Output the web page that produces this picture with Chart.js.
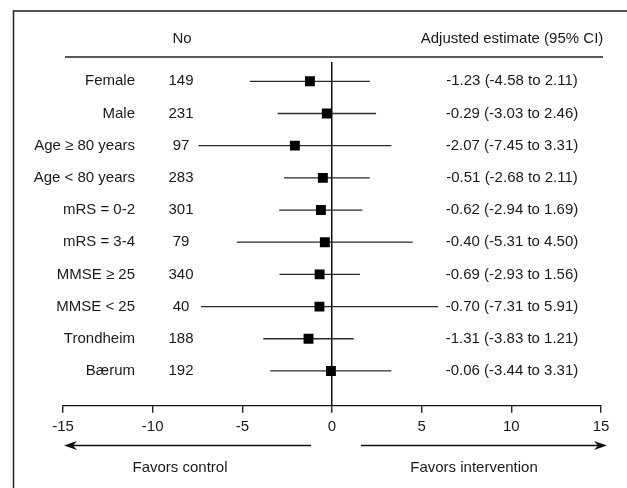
<!DOCTYPE html>
<html>
<head>
<meta charset="utf-8">
<script src="https://cdn.jsdelivr.net/npm/chart.js@4"></script>
<style>
  html, body { margin: 0; padding: 0; background: #fff; }
  canvas { display: block; }
</style>
</head>
<body>
<canvas id="forest" width="627" height="488"></canvas>
<script>
// Subgroup data
var categories = ['Female', 'Male', 'Age \u2265 80 years', 'Age < 80 years', 'mRS = 0-2', 'mRS = 3-4', 'MMSE \u2265 25', 'MMSE < 25', 'Trondheim', 'B\u00e6rum'];
var counts = [149, 231, 97, 283, 301, 79, 340, 40, 188, 192];
var estimates = [-1.23, -0.29, -2.07, -0.51, -0.62, -0.40, -0.69, -0.70, -1.31, -0.06];
var lower = [-4.58, -3.03, -7.45, -2.68, -2.94, -5.31, -2.93, -7.31, -3.83, -3.44];
var upper = [2.11, 2.46, 3.31, 2.11, 1.69, 4.50, 1.56, 5.91, 1.21, 3.31];
var xTicks = [-15, -10, -5, 0, 5, 10, 15];

var FONT = '15px "Liberation Sans", Arial, sans-serif';
var INK = '#1a1a1a';

// one line dataset per confidence interval
var ciSets = categories.map(function (c, i) {
    return {
        label: c + ' CI',
        data: [{ x: lower[i], y: i }, { x: upper[i], y: i }],
        showLine: true,
        borderColor: '#2a2a2a',
        borderWidth: 1.3,
        pointRadius: 0,
        order: 1
    };
});

var pointSet = {
    label: 'Adjusted estimate',
    data: estimates.map(function (v, i) { return { x: v, y: i }; }),
    pointStyle: 'rect',
    pointRadius: 7,
    backgroundColor: '#000',
    borderWidth: 0,
    order: 0
};

function fmt(v) { return v.toFixed(2); }

// text columns, header, frame and direction arrows
var forestDecor = {
    id: 'forestDecor',
    afterDraw: function (chart) {
        var ctx = chart.ctx;
        var x = chart.scales.x, y = chart.scales.y;
        ctx.save();

        ctx.strokeStyle = '#222';
        ctx.lineWidth = 1.5;
        ctx.beginPath();
        ctx.moveTo(13.5, 488);
        ctx.lineTo(13.5, 11);
        ctx.lineTo(627, 11);
        ctx.stroke();

        ctx.font = FONT;
        ctx.fillStyle = INK;
        ctx.textBaseline = 'middle';
        ctx.textAlign = 'center';
        ctx.fillText('No', 182, 39);
        ctx.fillText('Adjusted estimate (95% CI)', 512, 39);

        ctx.lineWidth = 1.3;
        ctx.beginPath();
        ctx.moveTo(65, 57);
        ctx.lineTo(603, 57);
        ctx.stroke();

        categories.forEach(function (c, i) {
            var py = y.getPixelForValue(i);
            ctx.textAlign = 'right';
            ctx.fillText(c, 135, py);
            ctx.textAlign = 'center';
            ctx.fillText(String(counts[i]), 181, py);
            ctx.fillText(fmt(estimates[i]) + ' (' + fmt(lower[i]) + ' to ' + fmt(upper[i]) + ')', 512, py);
        });

        // arrows under the axis
        var ay = 445.5;
        var leftTip = x.getPixelForValue(-15) + 1, leftEnd = 311;
        var rightStart = 361, rightTip = x.getPixelForValue(15) + 6;
        ctx.strokeStyle = '#111';
        ctx.fillStyle = '#111';
        ctx.lineWidth = 1.5;
        ctx.beginPath();
        ctx.moveTo(leftEnd, ay);
        ctx.lineTo(leftTip + 8, ay);
        ctx.moveTo(rightStart, ay);
        ctx.lineTo(rightTip - 8, ay);
        ctx.stroke();
        ctx.beginPath();
        ctx.moveTo(leftTip, ay);
        ctx.lineTo(leftTip + 13, ay - 4.5);
        ctx.lineTo(leftTip + 9, ay);
        ctx.lineTo(leftTip + 13, ay + 4.5);
        ctx.closePath();
        ctx.fill();
        ctx.beginPath();
        ctx.moveTo(rightTip, ay);
        ctx.lineTo(rightTip - 13, ay - 4.5);
        ctx.lineTo(rightTip - 9, ay);
        ctx.lineTo(rightTip - 13, ay + 4.5);
        ctx.closePath();
        ctx.fill();

        ctx.fillStyle = INK;
        ctx.textAlign = 'center';
        ctx.fillText('Favors control', 180, 468);
        ctx.fillText('Favors intervention', 474, 468);

        ctx.restore();
    }
};

var ctx = document.getElementById('forest').getContext('2d');
var forestChart = new Chart(ctx, {
    type: 'scatter',
    data: {
        datasets: [pointSet].concat(ciSets)
    },
    options: {
        responsive: false,
        animation: false,
        devicePixelRatio: 1,
        layout: {
            padding: { top: 62, left: 63, right: 26, bottom: 0 }
        },
        plugins: {
            legend: { display: false },
            tooltip: { enabled: false }
        },
        scales: {
            x: {
                type: 'linear',
                min: -15,
                max: 15,
                afterBuildTicks: function (scale) {
                    scale.ticks = xTicks.map(function (v) { return { value: v }; });
                },
                afterFit: function (scale) {
                    scale.height = 82.3; // keeps the axis line at ~y=405.7
                },
                border: { display: true, color: '#111', width: 1.3 },
                grid: {
                    drawOnChartArea: true,
                    drawTicks: true,
                    tickLength: 7,
                    lineWidth: 1.5,
                    color: function (c) { return c.tick && c.tick.value === 0 ? '#111' : 'rgba(0,0,0,0)'; },
                    tickColor: '#111',
                    tickWidth: 1.3
                },
                ticks: {
                    color: INK,
                    padding: 5,
                    maxRotation: 0,
                    font: { family: '"Liberation Sans", Arial, sans-serif', size: 15 }
                }
            },
            y: {
                type: 'linear',
                display: false,
                reverse: true,
                min: -0.6,
                max: 10.08
            }
        }
    },
    plugins: [forestDecor]
});
</script>
</body>
</html>
